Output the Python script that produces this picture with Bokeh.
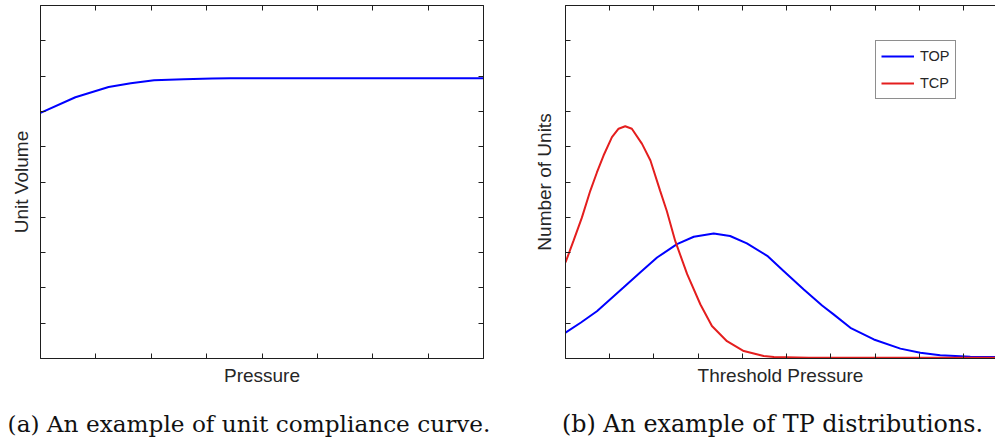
from bokeh.plotting import figure
from bokeh.models import (LinearAxis, FixedTicker, Range1d, Label, Legend, LegendItem,
                          CustomJSTickFormatter)
from bokeh.layouts import row, column
from bokeh.embed import file_html
from bokeh.resources import INLINE

# ---------------- data ----------------
comp_pressure = [0.0, 0.63, 1.23, 1.63, 2.05, 2.59, 3.10, 3.43, 8.0]
comp_volume = [6.96, 7.40, 7.69, 7.80, 7.88, 7.91, 7.93, 7.94, 7.94]

tcp_x = [0.0, 0.18, 0.37, 0.56, 0.71, 0.86, 1.05, 1.20, 1.35, 1.50, 1.73, 1.92, 2.14,
         2.29, 2.48, 2.75, 3.05, 3.31, 3.65, 4.03, 4.48, 4.71, 5.5, 9.72]
tcp_y = [2.72, 3.33, 3.99, 4.75, 5.27, 5.75, 6.27, 6.51, 6.58, 6.51, 6.08, 5.61, 4.75,
         4.18, 3.33, 2.39, 1.53, 0.92, 0.49, 0.21, 0.07, 0.04, 0.02, 0.02]

top_x = [0.0, 0.35, 0.71, 1.31, 1.70, 2.07, 2.52, 2.90, 3.35, 3.72, 4.10, 4.56, 4.93,
         5.38, 5.80, 6.06, 6.44, 6.97, 7.57, 8.02, 8.47, 9.15, 9.72]
top_y = [0.73, 1.02, 1.34, 2.01, 2.45, 2.86, 3.24, 3.45, 3.54, 3.47, 3.26, 2.91, 2.48,
         1.96, 1.50, 1.25, 0.87, 0.54, 0.28, 0.16, 0.09, 0.05, 0.04]

left_xticks = [0, 1, 2, 3, 4, 5, 6, 7, 8]
right_xticks = [0, 1, 2, 3, 4, 5, 6, 7, 8, 9]
yticks = [0, 1, 2, 3, 4, 5, 6, 7, 8, 9, 10]

caption_a = "(a) An example of unit compliance curve."
caption_b = "(b) An example of TP distributions."

FRAME = "#1e1e1e"
TXT = "#262626"
SANS = "Liberation Sans"
MAIN_H = 395
CAP_H = 442 - MAIN_H


def style_axis(ax, ticks, label=None, standoff=8):
    ax.ticker = FixedTicker(ticks=ticks)
    ax.formatter = CustomJSTickFormatter(code="return ''")
    ax.minor_tick_line_color = None
    ax.major_tick_in = 5
    ax.major_tick_out = 0
    ax.major_tick_line_color = FRAME
    ax.axis_line_color = FRAME
    ax.axis_line_width = 1
    ax.major_label_text_font_size = "10px"
    ax.major_label_standoff = 0
    if label:
        ax.axis_label = label
        ax.axis_label_text_font = SANS
        ax.axis_label_text_font_size = "19px"
        ax.axis_label_text_font_style = "normal"
        ax.axis_label_text_color = TXT
        ax.axis_label_standoff = standoff


def make_fig(width, xend, xticks, xlabel, ylabel, bl, br, ystand, right_axis=True):
    p = figure(width=width, height=MAIN_H, output_backend="svg", toolbar_location=None,
               x_range=Range1d(0, xend), y_range=Range1d(0, 10),
               x_axis_location=None, y_axis_location=None,
               min_border_left=bl, min_border_right=br, min_border_top=5,
               min_border_bottom=MAIN_H - 358)
    p.grid.visible = False
    p.outline_line_color = None
    p.background_fill_color = "white"
    p.border_fill_color = "white"
    bx = LinearAxis(); style_axis(bx, xticks, xlabel, 6); p.add_layout(bx, "below")
    tx = LinearAxis(); style_axis(tx, xticks); p.add_layout(tx, "above")
    ly = LinearAxis(); style_axis(ly, yticks, ylabel, ystand); p.add_layout(ly, "left")
    if right_axis:
        ry = LinearAxis(); style_axis(ry, yticks); p.add_layout(ry, "right")
    return p


def caption_fig(width, text, xcenter, size):
    c = figure(width=width, height=CAP_H, output_backend="svg", toolbar_location=None,
               x_range=Range1d(0, 1), y_range=Range1d(0, 1),
               x_axis_location=None, y_axis_location=None,
               min_border_left=0, min_border_right=0, min_border_top=0, min_border_bottom=0)
    c.grid.visible = False
    c.outline_line_color = None
    c.border_fill_color = "white"
    c.add_layout(Label(x=xcenter, y=19, x_units="screen", y_units="screen", text=text,
                       text_font="DejaVu Serif", text_font_size=size, text_color="#111111",
                       text_align="center", text_baseline="alphabetic"))
    return c


# ---------------- left panel ----------------
p1 = make_fig(500, 8, left_xticks, "Pressure", "Unit Volume", 40, 17, 9)
p1.line(comp_pressure, comp_volume, line_color="#0000ff", line_width=2)

# ---------------- right panel ----------------
p2 = make_fig(495, 9.72, right_xticks, "Threshold Pressure", "Number of Units", 65, 0, 11,
              right_axis=False)
r_top = p2.line(top_x, top_y, line_color="#0000ff", line_width=2)
r_tcp = p2.line(tcp_x, tcp_y, line_color="#e41e1e", line_width=2)

legend = Legend(items=[LegendItem(label="TOP", renderers=[r_top]),
                       LegendItem(label="TCP", renderers=[r_tcp])],
                location=(310, 259), orientation="vertical")
legend.border_line_color = FRAME
legend.border_line_width = 1
legend.background_fill_color = "white"
legend.background_fill_alpha = 1
legend.label_text_font = SANS
legend.label_text_font_size = "14.5px"
legend.label_text_color = TXT
legend.glyph_width = 33
legend.glyph_height = 20
legend.label_height = 20
legend.label_standoff = 6
legend.spacing = 7
legend.padding = 5
legend.margin = 0
p2.add_layout(legend, "center")

c1 = caption_fig(500, caption_a, 248.5, "23.2px")
c2 = caption_fig(495, caption_b, 272, "23.8px")

layout = column(row(p1, p2), row(c1, c2))
open("out.html", "w").write(file_html(layout, INLINE))
